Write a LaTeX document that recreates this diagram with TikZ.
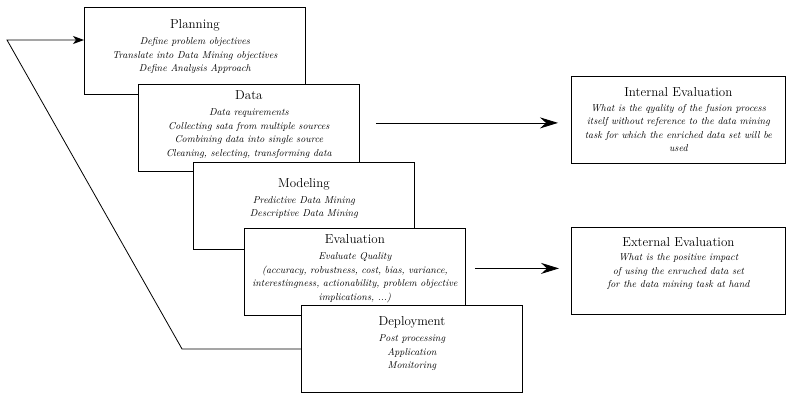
\documentclass[tikz,border=0pt]{standalone}
\usepackage{tikz}
\usetikzlibrary{arrows.meta, positioning}
\newcommand{\stageTitle}[1]{{\upshape\fontsize{13}{16}\selectfont #1}}
\tikzset{
  stageNode/.style={
    draw=black,
    line width=0.8pt,
    fill=white,
    align=center,
    anchor=north west,
    inner sep=2pt,
    minimum width=221pt,
    minimum height=87pt,
    font=\fontsize{10}{13.5}\selectfont\itshape
  },
  evalNode/.style={stageNode, minimum width=214pt},
  loopFlow/.style={-{Stealth[length=11pt,width=8pt,inset=3pt]}, line width=0.8pt},
  evalFlow/.style={-{Stealth[length=18pt,width=11pt,inset=6pt]}, line width=0.8pt}
}

\begin{document}
\begin{tikzpicture}[x=1pt, y=-1pt]
  \useasboundingbox (0,0) rectangle (786,393);
  % process stages
  \node[stageNode, text depth=10.5pt] (planning) at (84,7) {\stageTitle{Planning}\\[2.5pt]Define problem objectives\\Translate into Data Mining objectives\\Define Analysis Approach};
  \node[stageNode, text depth=8.5pt] (data) at (138,84) {\stageTitle{Data}\\[2.5pt]Data requirements\\Collecting sata from multiple sources\\Combining data into single source\\Cleaning, selecting, transforming data};
  \node[stageNode, text depth=16.5pt] (modeling) at (193,162) {\stageTitle{Modeling}\\[2.5pt]Predictive Data Mining\\Descriptive Data Mining};
  \node[stageNode, text depth=8.5pt] (evaluation) at (244,228) {\stageTitle{Evaluation}\\[2.5pt]Evaluate Quality\\(accuracy, robustness, cost, bias, variance,\\interestingness, actionability, problem objective\\implications, ...)};
  \node[stageNode, text depth=12.5pt] (deployment) at (301,305) {\stageTitle{Deployment}\\[2.5pt]Post processing\\Application\\Monitoring};

  % evaluation kinds
  \node[evalNode] (intEval) at (571,76) {\stageTitle{Internal Evaluation}\\[1pt]What is the qyality of the fusion process\\itself without reference to the data mining\\task for which the enriched data set will be\\used};
  \node[evalNode, text depth=16.5pt] (extEval) at (571,227) {\stageTitle{External Evaluation}\\[1pt]What is the positive impact\\of using the enruched data set\\for the data mining task at hand};

  % feedback loop
  \coordinate (loopBottom) at (182,0);
  \coordinate (loopTop) at (7,40);
  \draw[loopFlow] (deployment.west) -- (deployment.west -| loopBottom) -- (loopTop) -- (loopTop -| planning.west);

  \path ([yshift=5pt]data.east) coordinate (dataOut);
  \path ([yshift=3.5pt]evaluation.east) coordinate (evalOut);
  \draw[evalFlow, shorten <=16pt, shorten >=13pt] (dataOut) -- (dataOut -| intEval.west);
  \draw[evalFlow, shorten <=9pt, shorten >=12pt] (evalOut) -- (evalOut -| extEval.west);
\end{tikzpicture}
\end{document}
